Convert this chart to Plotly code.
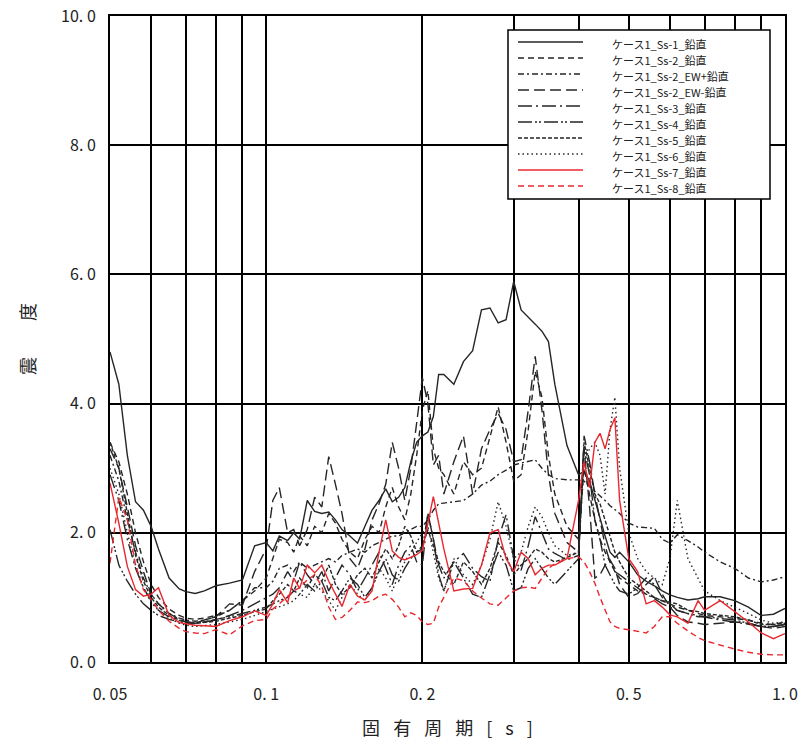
import plotly.graph_objects as go

# ---------------- data ----------------
periods = [0.050, 0.052, 0.054, 0.056, 0.058, 0.060, 0.062, 0.065, 0.068, 0.070, 0.073, 0.076, 0.080, 0.085, 0.090, 0.095, 0.100,
           0.103, 0.106, 0.110, 0.113, 0.116, 0.120, 0.124, 0.128, 0.132, 0.136, 0.140, 0.145, 0.150, 0.155, 0.160, 0.165, 0.170,
           0.175, 0.180, 0.185, 0.190, 0.195, 0.200,
           0.205, 0.210, 0.215, 0.220, 0.230, 0.240, 0.250, 0.260, 0.270, 0.280, 0.290, 0.300, 0.310, 0.320, 0.330, 0.340,
           0.350, 0.360, 0.380, 0.400,
           0.410, 0.420, 0.430, 0.440, 0.450, 0.460, 0.470, 0.480, 0.500, 0.520, 0.540, 0.560, 0.580, 0.600, 0.620, 0.650,
           0.680, 0.700, 0.750, 0.800, 0.850, 0.900, 0.950, 1.000]

ss1 = [4.80, 4.30, 3.20, 2.48, 2.35, 2.10, 1.75, 1.30, 1.13, 1.09, 1.06, 1.10, 1.18, 1.22, 1.27, 1.80, 1.85,
       1.72, 1.95, 1.88, 2.00, 1.90, 2.50, 2.33, 2.30, 2.32, 2.20, 2.05, 1.95, 1.84, 2.10, 2.35, 2.50, 2.68, 2.48, 2.55, 2.70, 3.10, 3.40, 3.50,
       3.56, 3.80, 4.45, 4.45, 4.30, 4.65, 4.82, 5.45, 5.48, 5.25, 5.30, 5.89, 5.45, 5.33, 5.23, 5.12, 4.96, 4.30, 3.35, 2.90,
       2.95, 2.80, 2.50, 2.20, 1.95, 1.70, 1.62, 1.70, 1.55, 1.35, 1.25, 1.18, 1.10, 1.04, 1.00, 0.96, 0.98, 1.01, 1.01, 0.95, 0.85, 0.72, 0.74, 0.83]

ss2 = [3.40, 3.10, 2.60, 2.00, 1.55, 1.20, 1.00, 0.82, 0.72, 0.68, 0.66, 0.68, 0.72, 0.80, 0.95, 1.10, 1.30,
       1.60, 1.90, 1.85, 1.70, 1.95, 1.80, 2.10, 2.00, 2.30, 2.15, 1.90, 1.70, 1.60, 1.90, 2.10, 2.00, 2.40, 2.70, 2.40, 2.20, 2.60, 3.20, 3.90,
       4.20, 3.30, 3.00, 2.90, 2.60, 3.10, 2.90, 3.00, 3.50, 3.95, 3.40, 2.80, 2.90, 3.60, 4.50, 4.10, 3.20, 2.60, 2.10, 1.90,
       3.00, 2.60, 2.20, 1.90, 1.70, 1.55, 1.40, 1.30, 1.20, 1.10, 1.05, 1.00, 0.95, 0.90, 0.85, 0.80, 0.75, 0.72, 0.70, 0.68, 0.65, 0.60, 0.58, 0.62]

ss2_ew_plus = [3.20, 2.80, 2.20, 1.70, 1.30, 1.05, 0.90, 0.75, 0.68, 0.65, 0.63, 0.65, 0.70, 0.80, 0.95, 1.15, 1.15,
               1.25, 1.45, 1.50, 1.40, 1.55, 1.45, 1.50, 1.55, 1.60, 1.55, 1.65, 1.70, 1.75, 1.70, 1.80, 1.85, 1.90, 1.95, 1.95, 2.00, 2.05, 2.10, 2.10,
               2.20, 2.35, 2.45, 2.46, 2.48, 2.50, 2.60, 2.74, 2.80, 2.90, 2.97, 3.05, 3.08, 3.10, 3.13, 3.00, 2.90, 2.84, 2.82, 2.82,
               2.80, 2.72, 2.65, 2.58, 2.50, 2.42, 2.36, 2.30, 2.15, 2.09, 2.08, 2.07, 1.90, 1.84, 1.97, 1.88, 1.78, 1.70, 1.55, 1.45, 1.30, 1.24, 1.27, 1.32]

ss2_ew_minus = [3.30, 3.00, 2.40, 1.80, 1.40, 1.05, 0.90, 0.75, 0.66, 0.62, 0.60, 0.65, 0.70, 0.90, 0.88, 1.40, 1.75,
                2.50, 2.70, 2.00, 2.05, 1.80, 2.05, 2.55, 2.40, 3.18, 2.75, 2.30, 1.60, 1.45, 1.75, 2.20, 2.45, 2.75, 3.40, 3.00, 2.50, 3.00, 3.70, 4.40,
                4.00, 3.05, 3.20, 2.60, 3.10, 3.50, 2.60, 3.30, 3.60, 3.85, 3.60, 3.10, 3.13, 3.90, 4.73, 3.90, 2.90, 2.30, 1.85, 1.70,
                3.30, 2.40, 1.30, 1.35, 1.50, 1.58, 1.45, 1.20, 1.00, 1.06, 1.20, 1.32, 1.05, 0.85, 0.72, 0.62, 0.60, 0.58, 0.60, 0.62, 0.60, 0.55, 0.52, 0.55]

ss3 = [2.90, 2.50, 1.90, 1.45, 1.15, 0.95, 0.80, 0.70, 0.64, 0.62, 0.60, 0.62, 0.65, 0.72, 0.80, 0.90, 1.00,
       1.05, 1.15, 1.40, 1.25, 1.55, 1.35, 1.20, 1.40, 1.10, 1.30, 1.50, 1.35, 1.10, 1.30, 1.50, 1.70, 1.45, 1.20, 1.50, 1.70, 1.80, 1.55, 1.50,
       2.30, 1.90, 1.50, 1.30, 1.55, 1.68, 1.45, 1.32, 1.25, 1.90, 2.28, 1.60, 1.42, 1.80, 2.25, 2.00, 1.75, 1.68, 1.58, 1.65,
       3.50, 3.10, 2.60, 2.20, 1.80, 1.55, 1.40, 1.35, 1.25, 1.15, 1.05, 0.98, 0.90, 0.85, 0.80, 0.75, 0.72, 0.70, 0.65, 0.62, 0.58, 0.55, 0.55, 0.58]

ss4 = [2.05, 1.50, 1.25, 1.05, 0.90, 0.80, 0.72, 0.66, 0.62, 0.60, 0.60, 0.62, 0.66, 0.70, 0.75, 0.80, 0.85,
       0.90, 0.95, 1.00, 1.10, 1.05, 1.20, 1.10, 1.25, 1.00, 0.95, 1.10, 1.30, 1.20, 1.00, 1.15, 1.40, 1.60, 1.35, 1.25, 1.45, 1.60, 1.70, 1.75,
       2.30, 1.90, 1.35, 1.10, 1.55, 1.30, 1.05, 1.00, 1.35, 1.70, 1.50, 1.10, 1.15, 1.45, 1.60, 1.45, 1.30, 1.20, 1.40, 1.60,
       3.30, 2.90, 2.20, 1.90, 1.50, 1.35, 1.20, 1.10, 1.05, 1.15, 1.30, 1.20, 1.00, 0.90, 0.80, 0.75, 0.70, 0.70, 0.68, 0.65, 0.60, 0.55, 0.55, 0.58]

ss5 = [3.40, 3.00, 2.30, 1.65, 1.25, 1.00, 0.85, 0.72, 0.65, 0.62, 0.60, 0.61, 0.63, 0.68, 0.72, 0.78, 0.82,
       0.95, 1.05, 1.20, 1.10, 1.30, 1.15, 1.35, 1.25, 1.50, 1.20, 1.05, 1.15, 1.35, 1.45, 1.30, 1.55, 1.75, 1.60, 1.80, 2.10, 1.95, 1.70, 1.80,
       2.05, 1.80, 1.55, 1.40, 1.20, 1.55, 1.40, 1.20, 1.45, 1.85, 1.65, 1.35, 1.50, 1.60, 1.75, 1.70, 1.60, 1.55, 1.62, 1.70,
       3.40, 3.00, 2.60, 2.45, 2.20, 1.95, 1.70, 1.55, 1.30, 1.20, 1.10, 1.00, 0.95, 0.92, 0.90, 0.80, 0.78, 0.75, 0.72, 0.70, 0.65, 0.58, 0.58, 0.60]

ss6 = [3.00, 2.60, 2.00, 1.50, 1.15, 0.92, 0.80, 0.68, 0.60, 0.57, 0.55, 0.56, 0.58, 0.62, 0.66, 0.72, 0.78,
       0.82, 0.85, 0.90, 0.95, 1.05, 1.00, 1.20, 1.10, 0.95, 0.80, 1.00, 1.20, 1.05, 0.95, 1.15, 1.45, 1.30, 1.10, 1.35, 1.55, 1.70, 1.85, 2.00,
       2.10, 1.70, 1.30, 1.10, 1.60, 1.35, 1.20, 1.50, 1.90, 2.48, 2.10, 1.60, 1.70, 2.10, 2.40, 2.25, 2.00, 1.80, 1.65, 1.70,
       3.10, 3.30, 3.40, 3.20, 2.60, 3.60, 4.10, 3.00, 2.00, 1.60, 1.40, 1.30, 1.20, 1.60, 2.50, 1.60, 1.30, 1.10, 0.95, 0.85, 0.75, 0.65, 0.60, 0.62]

ss7 = [2.77, 2.15, 1.48, 1.12, 1.02, 1.05, 1.15, 0.72, 0.61, 0.59, 0.57, 0.56, 0.55, 0.64, 0.70, 0.79, 0.72,
       0.90, 1.12, 0.92, 1.30, 1.14, 1.50, 1.38, 1.50, 1.25, 1.05, 0.86, 1.20, 1.02, 0.96, 1.10, 1.70, 2.20, 1.72, 1.62, 1.58, 1.62, 1.66, 1.73,
       2.17, 2.56, 2.15, 1.75, 1.10, 1.13, 1.14, 1.50, 2.00, 2.05, 1.60, 1.40, 1.70, 1.60, 1.35, 1.45, 1.50, 1.50, 1.60, 2.50,
       3.10, 2.70, 3.40, 3.54, 3.30, 3.60, 3.78, 2.50, 1.60, 1.40, 0.90, 0.95, 0.85, 0.73, 0.70, 0.60, 0.95, 0.80, 0.95, 0.78, 0.62, 0.45, 0.36, 0.44]

ss8 = [1.53, 2.55, 2.20, 1.50, 1.12, 0.97, 0.80, 0.63, 0.52, 0.47, 0.45, 0.44, 0.50, 0.42, 0.56, 0.64, 0.66,
       0.82, 0.90, 1.02, 1.10, 1.15, 1.27, 1.35, 1.17, 0.85, 0.66, 0.69, 0.80, 0.93, 0.92, 0.95, 1.02, 1.05, 0.97, 0.85, 0.70, 0.76, 0.72, 0.62,
       0.58, 0.60, 0.85, 1.00, 1.30, 1.26, 1.10, 0.99, 0.90, 0.88, 1.00, 1.10, 1.15, 1.16, 1.14, 1.30, 1.45, 1.52, 1.60, 1.63,
       1.55, 1.40, 1.22, 1.00, 0.80, 0.62, 0.55, 0.52, 0.50, 0.48, 0.45, 0.55, 0.70, 0.70, 0.60, 0.48, 0.38, 0.33, 0.26, 0.20, 0.15, 0.12, 0.11, 0.11]

series_names = ["ケース1_Ss-1_鉛直", "ケース1_Ss-2_鉛直", "ケース1_Ss-2_EW+鉛直", "ケース1_Ss-2_EW-鉛直",
                "ケース1_Ss-3_鉛直", "ケース1_Ss-4_鉛直", "ケース1_Ss-5_鉛直", "ケース1_Ss-6_鉛直",
                "ケース1_Ss-7_鉛直", "ケース1_Ss-8_鉛直"]
series_values = [ss1, ss2, ss2_ew_plus, ss2_ew_minus, ss3, ss4, ss5, ss6, ss7, ss8]

x_tick_vals = [0.05, 0.06, 0.07, 0.08, 0.09, 0.1, 0.2, 0.3, 0.4, 0.5, 0.6, 0.7, 0.8, 0.9, 1.0]
x_tick_text = ["0. 05", "", "", "", "", "0. 1", "0. 2", "", "", "0. 5", "", "", "", "", "1. 0"]
y_tick_vals = [0, 2, 4, 6, 8, 10]
y_tick_text = ["0. 0", "2. 0", "4. 0", "6. 0", "8. 0", "10. 0"]

# ---------------- styles ----------------
BLACK = "#262626"
RED = "#e8282e"
styles = [
    dict(color=BLACK, dash="solid"),
    dict(color=BLACK, dash="6px,4px"),
    dict(color=BLACK, dash="6px,3px,2px,3px"),
    dict(color=BLACK, dash="11px,5px"),
    dict(color=BLACK, dash="14px,4px,2px,4px"),
    dict(color=BLACK, dash="14px,3px,2px,2px,2px,3px"),
    dict(color=BLACK, dash="4px,2px"),
    dict(color=BLACK, dash="1.5px,3px"),
    dict(color=RED, dash="solid"),
    dict(color=RED, dash="6px,4px"),
]

FONT = "Noto Sans CJK JP"
W, H = 804, 743
ML, MR, MT, MB = 110, 19, 16, 81
PW, PH = W - ML - MR, H - MT - MB

fig = go.Figure()
for name, vals, st in zip(series_names, series_values, styles):
    fig.add_trace(go.Scatter(x=periods, y=vals, mode="lines", name=name,
                             line=dict(color=st["color"], dash=st["dash"], width=1.4),
                             showlegend=False))

def px_x(p):
    return (p - ML) / PW

def px_y(p):
    return (H - MB - p) / PH

ENTRY_GAP = 16
shapes = [dict(type="rect", xref="paper", yref="paper",
               x0=px_x(508), x1=px_x(770), y0=px_y(42 + ENTRY_GAP * 9 + 13), y1=px_y(30),
               fillcolor="white", line=dict(color="black", width=1.5), layer="above")]
annotations = []
for i, (name, st) in enumerate(zip(series_names, styles)):
    yy = 42 + ENTRY_GAP * i
    shapes.append(dict(type="line", xref="paper", yref="paper",
                       x0=px_x(518), x1=px_x(583), y0=px_y(yy), y1=px_y(yy),
                       line=dict(color=st["color"], dash=st["dash"], width=1.5), layer="above"))
    annotations.append(dict(xref="paper", yref="paper", x=px_x(610), y=px_y(yy + 2),
                            text=name, showarrow=False, xanchor="left", yanchor="middle",
                            font=dict(family=FONT, size=11, color="#222")))

fig.update_layout(
    width=W, height=H,
    margin=dict(l=ML, r=MR, t=MT, b=MB, autoexpand=False),
    paper_bgcolor="white", plot_bgcolor="white",
    showlegend=False,
    shapes=shapes, annotations=annotations,
    font=dict(family=FONT, color="#222"),
    xaxis=dict(type="log", range=[-1.30103, 0.0], automargin=False,
               tickvals=x_tick_vals, ticktext=x_tick_text,
               tickfont=dict(size=16, family=FONT, color="#222"),
               showgrid=True, gridcolor="black", gridwidth=1.6,
               showline=True, linecolor="black", linewidth=2, mirror=True,
               ticks="", ticklabelstandoff=17, zeroline=False,
               title=dict(text="固\u2002 有\u2002 周\u2002 期\u2002 [\u2002 s\u2002 ]",
                          font=dict(size=18, family=FONT, color="#222"), standoff=18)),
    yaxis=dict(range=[0, 10], automargin=False, tickvals=y_tick_vals, ticktext=y_tick_text,
               tickfont=dict(size=16, family=FONT, color="#222"),
               showgrid=True, gridcolor="black", gridwidth=1.6,
               showline=True, linecolor="black", linewidth=2, mirror=True,
               ticks="", ticklabelstandoff=9, zeroline=False,
               title=dict(text="震\u3000\u3000度", font=dict(size=18, family=FONT, color="#222"), standoff=21)),
)

fig.write_html("out.html", config={"displayModeBar": False},
               post_script="document.body.style.margin='0';document.body.style.overflow='hidden';")
